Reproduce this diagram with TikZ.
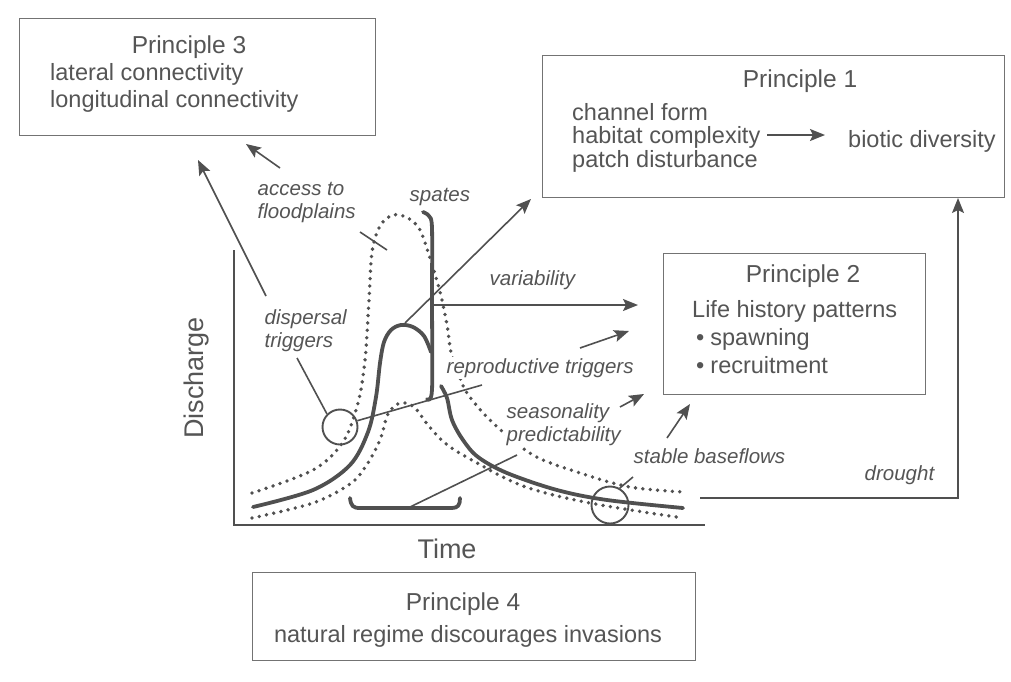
\documentclass[tikz,border=0pt]{standalone}
\usepackage{fontspec}
\setmainfont{Liberation Sans}
\usetikzlibrary{arrows.meta}
\definecolor{ink}{HTML}{555555}
\definecolor{lin}{HTML}{505050}
\definecolor{boxc}{HTML}{737373}
\begin{document}
\begin{tikzpicture}[x=1pt,y=-1pt,
  box/.style={draw=boxc, line width=1pt, inner sep=0pt, anchor=north west},
  txt/.style={text=ink, inner sep=0pt, anchor=base west, font=\fontsize{23.5}{28}\selectfont},
  ttl/.style={text=ink, inner sep=0pt, anchor=base, font=\fontsize{24.5}{29}\selectfont},
  axl/.style={text=ink, inner sep=0pt, anchor=base, font=\fontsize{27}{32}\selectfont},
  lab/.style={text=ink, inner sep=1.5pt, fill=white, anchor=base west, font=\fontsize{20.5}{24}\itshape\selectfont},
  conn/.style={draw=lin, line width=1.6pt},
  arr/.style={conn, -{Stealth[length=15pt,width=12pt,inset=3pt]}},
  flow/.style={draw=lin, line width=3.8pt, line cap=round, line join=round},
  dots/.style={draw=lin, line width=3.8pt, line cap=round, dash pattern=on 0pt off 7.4pt},
  ring/.style={draw=lin, line width=1.9pt, circle, inner sep=0pt, minimum size=35pt}]
\useasboundingbox[fill=white] (0,0) rectangle (1011,681);

% ---------- boxes ----------
\node[box, minimum width=356pt, minimum height=117pt] (p3) at (19,18) {};
\node[box, minimum width=462pt, minimum height=142pt] (p1) at (542,55) {};
\node[box, minimum width=262pt, minimum height=141pt] (p2) at (663,253) {};
\node[box, minimum width=443pt, minimum height=88pt] (p4) at (252,572) {};

% ---------- box texts ----------
\node[ttl] (p3t) at (189,53) {Principle 3};
\node[txt] (p3a) at (50,80) {lateral connectivity};
\node[txt] (p3b) at (50,107) {longitudinal connectivity};

\node[ttl] (p1t) at (800,87) {Principle 1};
\node[txt] (p1a) at (572,120) {channel form};
\node[txt] (p1b) at (572,143) {habitat complexity};
\node[txt] (p1c) at (572,167) {patch disturbance};
\node[txt] (p1d) at (848,147) {biotic diversity};

\node[ttl] (p2t) at (803,282) {Principle 2};
\node[txt] (p2a) at (692,317) {Life history patterns};
\node[txt] (p2b) at (696,345) {\textbullet\hspace{6pt}spawning};
\node[txt] (p2c) at (696,373) {\textbullet\hspace{6pt}recruitment};

\node[ttl] (p4t) at (463,610) {Principle 4};
\node[ttl, font=\fontsize{23.5}{28}\selectfont] (p4a) at (468,642) {natural regime discourages invasions};

% ---------- axes ----------
\coordinate (ytop) at (234,250);
\coordinate (orig) at (234,525);
\coordinate (xend) at (705,525);
\draw[draw=lin, line width=1.3pt] (ytop) -- (orig) -- (xend);
\node[axl, rotate=90] (ylab) at (203,378) {Discharge};
\node[axl] (xlab) at (447,558) {Time};

% ---------- hydrograph ----------
\draw[dots] plot[smooth, tension=0.55] coordinates {(252,493) (313,470) (343,442) (358,403) (365,360) (369,300) (372,252) (380,226) (393,215) (408,218) (420,230) (430,258) (440,292) (447,325) (451,352) (458,372) (467,393) (493,423) (533,455) (580,473) (630,487) (683,492)};
\draw[dots] plot[smooth, tension=0.55] coordinates {(252,518) (313,503) (350,484) (366,466) (380,440) (388,414) (400,403) (414,407) (428,425) (445,443) (470,459) (523,486) (590,503) (683,518)};

\draw[flow] plot[smooth, tension=0.55] coordinates {(253,507) (313,490) (350,465) (368,432) (376,397) (380,363) (384,342) (391,330) (401,325) (413,327) (424,336) (431,352)};
\draw[flow] plot[smooth, tension=0.5] coordinates {(423,212) (429,216) (432,228) (432,300) (432,390) (427,399)};
\draw[flow] plot[smooth, tension=0.55] coordinates {(441,386) (447,398) (452,420) (463,440) (478,457) (507,473) (557,490) (607,500) (683,508)};
\draw[flow] (350,498) .. controls (351,506) and (353,508) .. (360,508) -- (452,508) .. controls (458,508) and (460,505) .. (460,498);

\node[ring] (cl) at (340,427) {};
\node[ring, minimum size=37pt] (cr) at (610,505) {};

% ---------- labels ----------
\node[lab] (acc1) at (256,195) {access to};
\node[lab] (acc2) at (256,218) {floodplains};
\node[lab] (spa) at (408,201) {spates};
\node[lab] (dis1) at (263,324) {dispersal};
\node[lab] (dis2) at (263,347) {triggers};
\node[lab] (var) at (488,285) {variability};
\node[lab] (rep) at (445,373) {reproductive triggers};
\node[lab] (sea1) at (505,418) {seasonality};
\node[lab] (sea2) at (505,441) {predictability};
\node[lab] (sta) at (632,463) {stable baseflows};
\node[lab] (dro) at (863,480) {drought};

% ---------- connectors ----------
\coordinate (a1s) at (266,296); \coordinate (a1e) at (198,160);
\draw[arr] (a1s) -- (a1e);
\coordinate (a2s) at (280,168); \coordinate (a2e) at (246,144);
\draw[arr] (a2s) -- (a2e);
\coordinate (t1s) at (360,232); \coordinate (t1e) at (387,250);
\draw[conn] (t1s) -- (t1e);
\coordinate (a3s) at (405,323); \coordinate (a3e) at (531,199);
\draw[arr] (a3s) -- (a3e);
\coordinate (a4s) at (432,305); \coordinate (a4e) at (638,305);
\draw[arr] (a4s) -- (a4e);
\coordinate (a5s) at (580,348); \coordinate (a5e) at (629,331);
\draw[arr] (a5s) -- (a5e);
\coordinate (a6s) at (620,407); \coordinate (a6e) at (644,394);
\draw[arr] (a6s) -- (a6e);
\coordinate (a7s) at (667,438); \coordinate (a7e) at (690,404);
\draw[arr] (a7s) -- (a7e);
\coordinate (d1) at (700,498); \coordinate (d2) at (958,498); \coordinate (d3) at (958,198);
\draw[arr] (d1) -- (d2) -- (d3);
\coordinate (h1) at (767,135); \coordinate (h2) at (825,135);
\draw[arr] (h1) -- (h2);
\coordinate (tds) at (297,358);
\draw[conn] (tds) -- (cl.north west);
\coordinate (rpe) at (482,385);
\draw[conn] (cl.20) -- (rpe);
\coordinate (sps) at (517,455); \coordinate (spe) at (410,507);
\draw[conn] (sps) -- (spe);
\coordinate (sbs) at (633,477);
\draw[conn] (sbs) -- (cr.60);
\end{tikzpicture}
\end{document}
